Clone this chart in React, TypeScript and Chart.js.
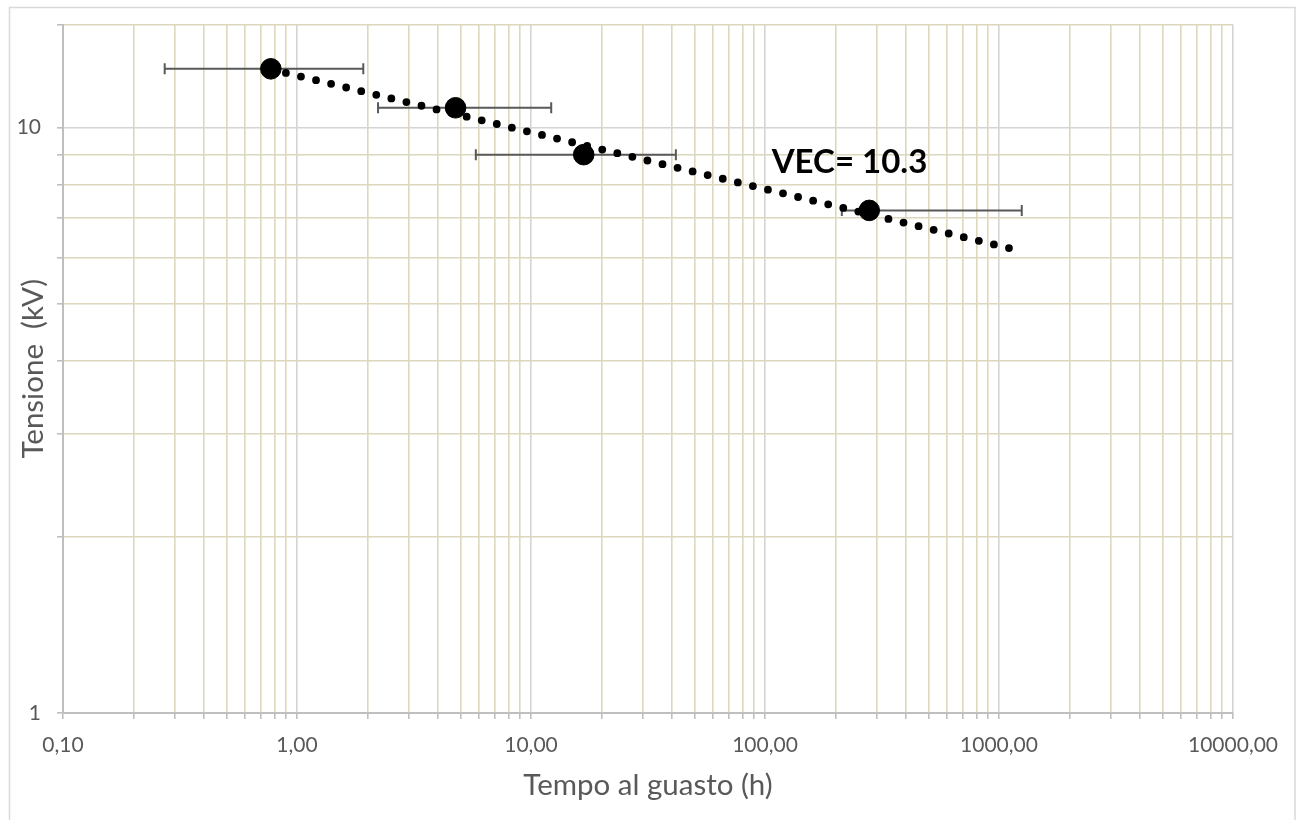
import React, { useEffect, useRef } from "react";
import { Chart, registerables } from "chart.js";

Chart.register(...registerables);

// Data
const failTimes = [0.773, 4.76, 16.8, 279];        // h
const voltages = [12.6, 10.81, 8.99, 7.22];       // kV
const errLow = [0.272, 2.22, 5.81, 213];          // h
const errHigh = [1.92, 12.2, 41.6, 1251];         // h
const trendTimes = [0.773, 1150];                 // h
const trendVolts = [12.58, 6.2];                  // kV
const xTickValues = [
  0.1, 0.2, 0.3, 0.4, 0.5, 0.6, 0.7, 0.8, 0.9,
  1, 2, 3, 4, 5, 6, 7, 8, 9,
  10, 20, 30, 40, 50, 60, 70, 80, 90,
  100, 200, 300, 400, 500, 600, 700, 800, 900,
  1000, 2000, 3000, 4000, 5000, 6000, 7000, 8000, 9000,
  10000,
];
const yTickValues = [1, 2, 3, 4, 5, 6, 7, 8, 9, 10, 15];
const xMajorLabels = [0.1, 1, 10, 100, 1000, 10000];
const yMajorLabels = [1, 10];
const annotationText = "VEC= 10.3";
const annotationAt = { x: 106.8, y: 8.37 };

const FONT = "Lato, 'Open Sans', sans-serif";
const GREY_TEXT = "#595959";
const MAJOR_GRID = "#d4d4d4";
const MINOR_GRID = "#dcd7bd";
const AXIS_LINE = "#bfbfbf";

const isPow10 = (v: number) => {
  const l = Math.log10(v);
  return Math.abs(l - Math.round(l)) < 1e-9;
};

const frameAndExtras = {
  id: "frameAndExtras",
  beforeDraw(chart: any) {
    const ctx = chart.ctx;
    ctx.save();
    ctx.fillStyle = "#ffffff";
    ctx.fillRect(0, 0, chart.width, chart.height);
    ctx.strokeStyle = "#d9d9d9";
    ctx.lineWidth = 1.5;
    ctx.strokeRect(9.5, 7.5, 1285.5, 840);
    ctx.restore();
  },
  beforeDatasetsDraw(chart: any) {
    const ctx = chart.ctx;
    const xs = chart.scales.x;
    const ys = chart.scales.y;
    ctx.save();
    ctx.strokeStyle = "#595959";
    ctx.lineWidth = 2;
    for (let i = 0; i < failTimes.length; i++) {
      const y = ys.getPixelForValue(voltages[i]);
      const x1 = xs.getPixelForValue(errLow[i]);
      const x2 = xs.getPixelForValue(errHigh[i]);
      ctx.beginPath();
      ctx.moveTo(x1, y);
      ctx.lineTo(x2, y);
      ctx.moveTo(x1, y - 5.5);
      ctx.lineTo(x1, y + 5.5);
      ctx.moveTo(x2, y - 5.5);
      ctx.lineTo(x2, y + 5.5);
      ctx.stroke();
    }
    ctx.restore();
  },
  afterDatasetsDraw(chart: any) {
    const ctx = chart.ctx;
    const xs = chart.scales.x;
    const ys = chart.scales.y;
    ctx.save();
    ctx.fillStyle = "#000000";
    ctx.font = `bold 33px ${FONT}`;
    ctx.textAlign = "left";
    ctx.textBaseline = "alphabetic";
    ctx.fillText(
      annotationText,
      xs.getPixelForValue(annotationAt.x),
      ys.getPixelForValue(annotationAt.y)
    );
    ctx.restore();
  },
};

export default function App() {
  const ref = useRef<HTMLCanvasElement | null>(null);

  useEffect(() => {
    if (!ref.current) return;
    const chart = new Chart(ref.current, {
      type: "scatter",
      data: {
        datasets: [
          {
            label: "Dati",
            data: failTimes.map((t, i) => ({ x: t, y: voltages[i] })),
            backgroundColor: "#000000",
            borderColor: "#000000",
            pointRadius: 10.3,
            pointHoverRadius: 10.3,
          },
          {
            type: "line",
            label: "Trend",
            data: trendTimes.map((t, i) => ({ x: t, y: trendVolts[i] })),
            borderColor: "#000000",
            borderWidth: 7.8,
            borderDash: [0, 15.5],
            borderCapStyle: "round",
            pointRadius: 0,
            fill: false,
            showLine: true,
          } as any,
        ],
      },
      options: {
        responsive: false,
        animation: false,
        events: [],
        layout: { padding: { left: 0, top: 24.5, right: 64, bottom: 0 } },
        plugins: {
          legend: { display: false },
          tooltip: { enabled: false },
          title: { display: false },
        },
        scales: {
          x: {
            type: "logarithmic",
            min: 0.1,
            max: 10000,
            afterBuildTicks: (scale: any) => {
              scale.ticks = xTickValues.map((v) => ({ value: v }));
            },
            afterFit: (scale: any) => {
              scale.height = 107;
              scale.paddingLeft = 0;
              scale.paddingRight = 0;
            },
            grid: {
              color: (c: any) => (isPow10(c.tick.value) ? MAJOR_GRID : MINOR_GRID),
              lineWidth: 1.6,
              tickLength: 6,
              tickColor: AXIS_LINE,
              drawTicks: true,
            },
            border: { display: true, color: AXIS_LINE, width: 2 },
            ticks: {
              autoSkip: false,
              maxRotation: 0,
              padding: 14,
              color: GREY_TEXT,
              font: { family: FONT, size: 21 },
              callback: (v: any) => {
                const n = Number(v);
                return xMajorLabels.some((m) => Math.abs(m - n) < 1e-9)
                  ? n.toFixed(2).replace(".", ",")
                  : "";
              },
            },
            title: {
              display: true,
              text: "Tempo al guasto (h)",
              color: GREY_TEXT,
              font: { family: FONT, size: 29.5 },
              padding: { top: 0, bottom: 17.3 },
            },
          },
          y: {
            type: "logarithmic",
            min: 1,
            max: 15,
            afterBuildTicks: (scale: any) => {
              scale.ticks = yTickValues.map((v) => ({ value: v }));
            },
            afterFit: (scale: any) => {
              scale.width = 63;
              scale.paddingTop = 0;
              scale.paddingBottom = 0;
            },
            grid: {
              color: (c: any) => (isPow10(c.tick.value) ? MAJOR_GRID : MINOR_GRID),
              lineWidth: 1.6,
              tickLength: 6,
              tickColor: AXIS_LINE,
              drawTicks: true,
            },
            border: { display: true, color: AXIS_LINE, width: 2 },
            ticks: {
              autoSkip: false,
              padding: 16,
              color: GREY_TEXT,
              font: { family: FONT, size: 21 },
              callback: (v: any) => {
                const n = Number(v);
                return yMajorLabels.some((m) => Math.abs(m - n) < 1e-9) ? String(n) : "";
              },
            },
            title: {
              display: true,
              text: "Tensione  (kV)",
              color: GREY_TEXT,
              font: { family: FONT, size: 29.5 },
              padding: { top: 15.3, bottom: 0 },
            },
          },
        },
      },
      plugins: [frameAndExtras],
    });
    return () => chart.destroy();
  }, []);

  return (
    <div style={{ position: "fixed", left: 0, top: 0, width: 1297, height: 820, background: "#fff" }}>
      <canvas ref={ref} width={1297} height={820} style={{ display: "block" }} />
    </div>
  );
}
